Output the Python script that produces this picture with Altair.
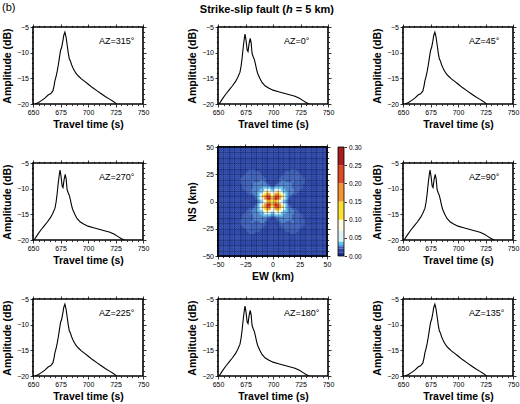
import altair as alt
import pandas as pd

FONT = "Liberation Sans"

# ---- waveform envelopes: travel time (s) and amplitude (dB) ----
# single-peaked envelope seen at the diagonal azimuths
diag_t = [652, 655, 658, 661, 664, 666, 668, 669, 670, 671,
          672, 673, 674, 675, 676, 677, 678, 679, 680, 681,
          682, 683, 684, 685, 687, 689, 691, 694, 697, 700,
          704, 708, 712, 716, 720, 723, 726]
diag_amp = [-20, -19.7, -19.3, -18.8, -18.2, -18.0, -17.5, -16.6, -15.4, -14.6,
            -13.6, -12.4, -11.0, -9.6, -9.0, -7.9, -6.6, -6.0, -6.9, -8.4,
            -10.0, -11.2, -11.6, -12.3, -13.3, -14.0, -14.5, -15.1, -15.6, -16.1,
            -16.8, -17.4, -18.0, -18.6, -19.1, -19.5, -20]

# double-peaked envelope seen along the N-S and E-W azimuths
axial_t = [651, 654, 657, 660, 663, 666, 668, 670, 671, 672,
           673, 674, 674.6, 675.5, 676.5, 677.3, 678.3, 679.3, 680.2, 681,
           682, 683, 684, 685, 686, 688, 690, 693, 696, 700,
           705, 710, 715, 720, 724, 727, 730, 733]
axial_amp = [-20, -19.0, -18.1, -17.3, -16.5, -15.6, -14.8, -13.8, -12.6, -10.9,
             -8.8, -7.1, -6.4, -7.6, -9.5, -9.8, -8.2, -7.2, -8.2, -10.2,
             -10.8, -11.3, -12.2, -13.2, -14.0, -15.0, -15.8, -16.5, -16.9, -17.3,
             -17.6, -17.9, -18.2, -18.5, -18.9, -19.3, -19.7, -20]

# panel order, row by row (None marks the map panel)
panel_az = [315, 0, 45, 270, None, 90, 225, 180, 135]
axial_az = [0, 90, 180, 270]

# ---- amplitude map (2 km cells), NE quadrant; the field is mirrored about both axes ----
# rows go from y = 1 km upward, columns from x = 1 km eastward
quadrant_rows = [
    "7876543111111111111111111",
    "8a98654211111111111111111",
    "7998754321111111111111111",
    "6887654332211111111111111",
    "5676544333221111111111111",
    "4555443333222111111111111",
    "3444433332222211111111111",
    "1233333332222211111111111",
    "1123333332222221111111111",
    "1112332223222221111111111",
    "1112222222222221111111111",
    "1111222222222211111111111",
    "1111122222222111111111111",
    "1111112222221111111111111",
    "1111111122211111111111111",
    "1111111111111111111111111",
    "1111111111111111111111111",
    "1111111111111111111111111",
    "1111111111111111111111111",
    "1111111111111111111111111",
    "1111111111111111111111111",
    "1111111111111111111111111",
    "1111111111111111111111111",
    "1111111111111111111111111",
    "1111111111111111111111111",
]
level_codes = "123456789a"
level_values = [0.015, 0.022, 0.027, 0.035, 0.05, 0.08, 0.12, 0.17, 0.22, 0.27]

# colour table
cbar_edges = [0, 0.01, 0.02, 0.025, 0.03, 0.04, 0.07, 0.10, 0.15, 0.20, 0.25, 0.30]
cbar_colors = ["#1d2c84", "#2c46a6", "#3d5fb6", "#4f84cc", "#63c2ea", "#dff3f5",
               "#fffbdc", "#fbe030", "#f39431", "#df4a24", "#a91d1f"]
cbar_ticks = [0, 0.05, 0.10, 0.15, 0.20, 0.25, 0.30]

t_ticks = list(range(650, 751, 5))
a_ticks = list(range(-20, -4))
km_ticks = list(range(-50, 51, 5))

xs = alt.Scale(domain=[650, 750], nice=False, zero=False)
km = alt.Scale(domain=[-50, 50], nice=False, zero=False)
cscale = alt.Scale(type="threshold", domain=cbar_edges[1:-1], range=cbar_colors)

W, H = 110, 77
MAP = 109


def axis(orient, values, major, title=None, labels=True, **kw):
    return alt.Axis(
        orient=orient, values=values, title=title, labels=labels,
        labelExpr=f"datum.value % {major} === 0 ? datum.label : ''",
        tickSize={"condition": {"test": f"datum.value % {major} === 0", "value": 3},
                  "value": 1.6},
        labelOverlap=False, labelFlush=False, domain=False, **kw)


def one_row(**fields):
    return alt.Data(values=[fields])


def text_at(txt, x, y, align="left", style="normal", weight="normal", size=9):
    return alt.Chart(one_row(txt=txt)).mark_text(
        align=align, baseline="alphabetic", font=FONT, fontSize=size,
        fontStyle=style, fontWeight=weight, color="black"
    ).encode(x=alt.value(x), y=alt.value(y), text="txt:N")


def wave_panel(az, extra=(), cell_h=H):
    """Waveform panel; in the map row the cell is taller and the frame sits centred."""
    t, amp = (axial_t, axial_amp) if az in axial_az else (diag_t, diag_amp)
    df = pd.DataFrame({"t": t, "amp": amp})
    top = (cell_h - H) / 2
    ys = alt.Scale(domain=[-20, -5], nice=False, zero=False, range=[top + H, top])
    shift = dict(offset=-top) if top else {}
    line = alt.Chart(df).mark_line(color="black", strokeWidth=1.1, clip=True).encode(
        x=alt.X("t:Q", scale=xs,
                axis=axis("bottom", t_ticks, 25, "Travel time (s)", **shift)),
        y=alt.Y("amp:Q", scale=ys, axis=axis("left", a_ticks, 5, "Amplitude (dB)")),
    )
    frame_ticks = alt.Chart(df).mark_point(opacity=0).encode(
        x=alt.X("t:Q", scale=xs, axis=axis("top", t_ticks, 25, labels=False, **shift)),
        y=alt.Y("amp:Q", scale=ys, axis=axis("right", a_ticks, 5, labels=False)),
    )
    frame = alt.Chart(one_row(k=0)).mark_rect(
        fillOpacity=0, stroke="black", strokeWidth=1.6
    ).encode(x=alt.value(0), x2=alt.value(W), y=alt.value(top), y2=alt.value(top + H))
    label = text_at(f"AZ={az}\u00b0", 66, top + 16.5)
    return (alt.layer(line, frame_ticks, frame, label, *extra)
            .resolve_axis(x="independent", y="independent")
            .properties(width=W, height=cell_h,
                        view=alt.ViewBackground(stroke="transparent")))


def map_panel():
    cells = []
    for r, row in enumerate(quadrant_rows):
        yc = 1 + 2 * r
        for c, code in enumerate(row):
            xc = 1 + 2 * c
            v = level_values[level_codes.index(code)]
            for sx in (-1, 1):
                for sy in (-1, 1):
                    cx, cy = sx * xc, sy * yc
                    cells.append({"x0": cx - 1, "x1": cx + 1,
                                  "y0": cy - 1, "y1": cy + 1, "v": v})
    hdf = pd.DataFrame(cells)
    grid = dict(grid=True, gridColor="#0a0f35", gridOpacity=0.45, gridWidth=0.6, zindex=1)
    heat = alt.Chart(hdf).mark_rect(strokeWidth=0.4).encode(
        x=alt.X("x0:Q", scale=km, axis=axis("bottom", km_ticks, 25, "EW (km)", **grid)),
        x2="x1:Q",
        y=alt.Y("y0:Q", scale=km, axis=axis("left", km_ticks, 25, "NS (km)", **grid)),
        y2="y1:Q",
        color=alt.Color("v:Q", scale=cscale, legend=None),
        stroke=alt.Stroke("v:Q", scale=cscale, legend=None),
    )
    frame = alt.Chart(one_row(k=0)).mark_rect(
        fillOpacity=0, stroke="black", strokeWidth=1.6
    ).encode(x=alt.value(0), x2=alt.value(MAP), y=alt.value(0), y2=alt.value(MAP))
    corners = alt.Data(values=[{"e": -50, "n": -50}, {"e": 50, "n": 50}])
    frame_ticks = alt.Chart(corners).mark_point(opacity=0).encode(
        x=alt.X("e:Q", scale=km, axis=axis("top", km_ticks, 25, labels=False)),
        y=alt.Y("n:Q", scale=km, axis=axis("right", km_ticks, 25, labels=False)),
    )
    cb = pd.DataFrame({"lo": cbar_edges[:-1], "hi": cbar_edges[1:]})
    cb["mid"] = (cb["lo"] + cb["hi"]) / 2
    cbar = alt.Chart(cb).mark_rect().encode(
        x=alt.value(120), x2=alt.value(126),
        y=alt.Y("lo:Q", scale=alt.Scale(domain=[0, 0.3], nice=False, zero=False),
                axis=alt.Axis(orient="right", offset=17, values=cbar_ticks, format=".2f",
                              title=None, tickSize=2.5, labelFontSize=6.5, labelPadding=2,
                              domain=False, labelFlush=False, grid=False)),
        y2="hi:Q",
        color=alt.Color("mid:Q", scale=cscale, legend=None),
    )
    cbar_frame = alt.Chart(one_row(k=0)).mark_rect(
        fillOpacity=0, stroke="black", strokeWidth=0.8
    ).encode(x=alt.value(120), x2=alt.value(126), y=alt.value(0), y2=alt.value(MAP))
    return (alt.layer(heat, frame, frame_ticks, cbar, cbar_frame)
            .resolve_scale(y="independent")
            .resolve_axis(x="independent", y="independent")
            .properties(width=MAP, height=MAP))


# figure label and title (italic h in the title)
label_b = text_at("(b)", -31, -16.5, size=11)
title_parts = [
    text_at("Strike-slip fault (", 68, -14, align="right", weight="bold", size=11),
    text_at("h", 68, -14, style="italic", weight="bold", size=11),
    text_at("= 5 km)", 77.8, -14, weight="bold", size=11),
]

panels = []
for i, az in enumerate(panel_az):
    if az is None:
        panels.append(map_panel())
    elif i == 0:
        panels.append(wave_panel(az, extra=[label_b]))
    elif i == 1:
        panels.append(wave_panel(az, extra=title_parts))
    elif 3 <= i <= 5:
        panels.append(wave_panel(az, cell_h=MAP))
    else:
        panels.append(wave_panel(az))

chart = alt.concat(
    *panels, columns=3, bounds="flush",
    spacing={"row": 43, "column": 75},
).configure(font=FONT).configure_view(
    stroke="black", strokeWidth=1.6
).configure_axis(
    grid=False,
    labelFont=FONT, labelFontSize=7, labelColor="black", labelPadding=1.5,
    titleFont=FONT, titleFontSize=10.5, titleFontWeight="bold", titleColor="black",
    titlePadding=3, tickColor="black", tickWidth=0.8,
).configure_axisX(
    titlePadding=3.5
).configure_axisY(
    titlePadding=4.5
).properties(
    padding={"left": 1, "top": 0, "right": 0, "bottom": 0}, background="white"
)

chart.save("out.html", embed_options={"renderer": "svg", "actions": False})
